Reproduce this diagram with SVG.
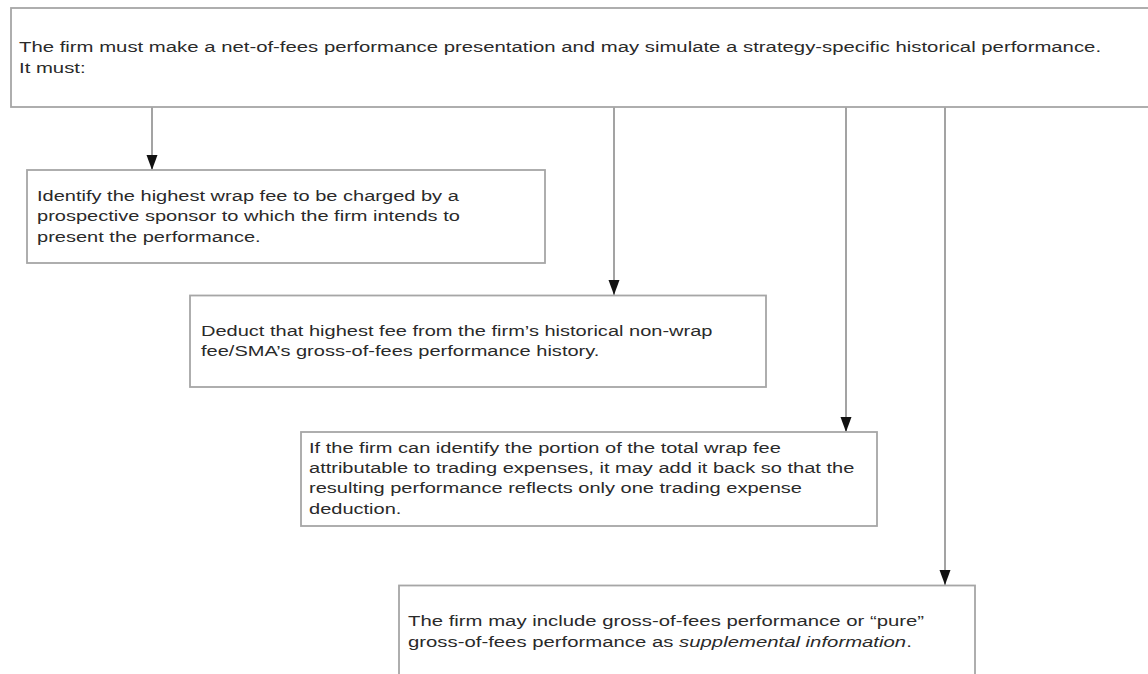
<svg xmlns="http://www.w3.org/2000/svg" width="1148" height="674" viewBox="0 0 1148 674">
<style>
.box{fill:#ffffff;stroke:#a6a6a6;stroke-width:1.8}
.lbl{font-family:"Liberation Sans",Arial,sans-serif;font-size:15px;fill:#2a2a2a}
.conn{stroke:#858585;stroke-width:1.5;fill:none}
</style>
<defs>
<marker id="ah" markerUnits="userSpaceOnUse" markerWidth="16" markerHeight="12" refX="15" refY="5.5" orient="auto">
<path d="M0,0 L15,5.5 L0,11 z" fill="#111"/>
</marker>
</defs>
<rect width="1148" height="674" fill="#ffffff"/>
<g id="connectors">
<line class="conn" x1="152" y1="107" x2="152" y2="170" marker-end="url(#ah)"/>
<line class="conn" x1="614" y1="107" x2="614" y2="295" marker-end="url(#ah)"/>
<line class="conn" x1="846" y1="107" x2="846" y2="432" marker-end="url(#ah)"/>
<line class="conn" x1="945" y1="107" x2="945" y2="585" marker-end="url(#ah)"/>
</g>
<g id="node-top">
<rect class="box" x="11" y="8" width="1145" height="99"/>
<text class="lbl" transform="matrix(1.355 0 0 1 19 51.5)"><tspan x="0" y="0">The firm must make a net-of-fees performance presentation and may simulate a strategy-specific historical performance.</tspan><tspan x="0" y="21.5">It must:</tspan></text>
</g>
<g id="node-identify">
<rect class="box" x="27" y="170" width="518" height="93"/>
<text class="lbl" transform="matrix(1.335 0 0 1 37 200.5)"><tspan x="0" y="0">Identify the highest wrap fee to be charged by a</tspan><tspan x="0" y="21">prospective sponsor to which the firm intends to</tspan><tspan x="0" y="42">present the performance.</tspan></text>
</g>
<g id="node-deduct">
<rect class="box" x="190" y="295.5" width="576" height="91.5"/>
<text class="lbl" transform="matrix(1.335 0 0 1 201 336)"><tspan x="0" y="0">Deduct that highest fee from the firm’s historical non-wrap</tspan><tspan x="0" y="20.5">fee/SMA’s gross-of-fees performance history.</tspan></text>
</g>
<g id="node-addback">
<rect class="box" x="301" y="432" width="576" height="94"/>
<text class="lbl" transform="matrix(1.335 0 0 1 309 452.5)"><tspan x="0" y="0">If the firm can identify the portion of the total wrap fee</tspan><tspan x="0" y="20.5">attributable to trading expenses, it may add it back so that the</tspan><tspan x="0" y="41">resulting performance reflects only one trading expense</tspan><tspan x="0" y="61.5">deduction.</tspan></text>
</g>
<g id="node-supplemental">
<rect class="box" x="399" y="585.5" width="576" height="100"/>
<text class="lbl" transform="matrix(1.355 0 0 1 408 626)"><tspan x="0" y="0">The firm may include gross-of-fees performance or “pure”</tspan><tspan x="0" y="21">gross-of-fees performance as <tspan font-style="italic">supplemental information</tspan>.</tspan></text>
</g>
</svg>
